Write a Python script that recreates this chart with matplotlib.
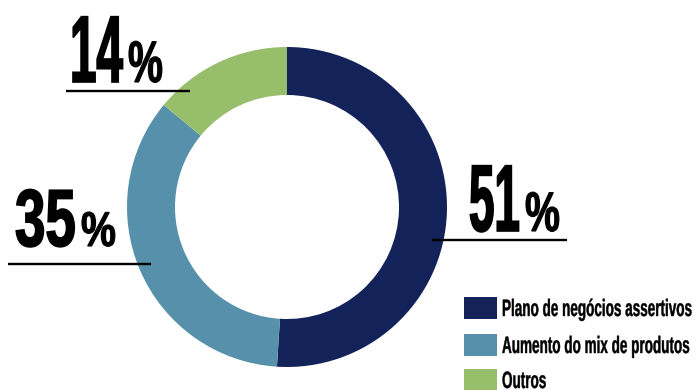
import matplotlib
matplotlib.use("Agg")
import matplotlib.pyplot as plt
from matplotlib.patches import Rectangle
from matplotlib.patheffects import AbstractPathEffect
from matplotlib.transforms import Affine2D

labels = ["Plano de negócios assertivos", "Aumento do mix de produtos", "Outros"]
values = [51, 35, 14]
colors = ["#14225A", "#5790AA", "#97BE6A"]

W, H = 697, 390
DPI = 100
fig = plt.figure(figsize=(W / DPI, H / DPI), dpi=DPI)
ax = fig.add_axes([0, 0, 1, 1])

FONT = ["Liberation Sans", "DejaVu Sans"]
CAP = 0.716  # cap/digit height as fraction of em


class VStretch(AbstractPathEffect):
    """Stretch text glyphs vertically around the baseline (condensed look), optionally embolden."""
    def __init__(self, sy, y0, stroke=0.0):
        super().__init__()
        self.sy, self.y0, self.stroke = sy, y0, stroke

    def draw_path(self, renderer, gc, tpath, affine, rgbFace=None):
        t = affine + Affine2D().translate(0, -self.y0).scale(1, self.sy).translate(0, self.y0)
        g = renderer.new_gc()
        g.copy_properties(gc)
        if self.stroke > 0:
            g.set_linewidth(self.stroke)
            g.set_foreground(rgbFace if rgbFace is not None else "black")
            g.set_joinstyle("miter")
        else:
            g.set_linewidth(0)
        renderer.draw_path(g, tpath, t, rgbFace)
        g.restore()


cx, cy, R = 287, H - 207, 160
ax.pie(values, colors=colors, startangle=90, counterclock=False,
       radius=R, center=(cx, cy), frame=True,
       wedgeprops=dict(width=48, linewidth=0))
ax.set_xlim(0, W)
ax.set_ylim(0, H)
ax.set_aspect("equal")
ax.axis("off")

fig.canvas.draw()
r = fig.canvas.get_renderer()


def cond_text(x, base, s, cap_px, width_px, weight="bold", stroke=0.0, fs_fixed=None):
    t = ax.text(x, H - base, s, fontsize=10, fontweight=weight, family=FONT,
                ha="left", va="baseline", color="black")
    if fs_fixed is None:
        w0 = t.get_window_extent(renderer=r).width
        fs = 10 * width_px / w0
    else:
        fs = fs_fixed
    t.set_fontsize(fs)
    cap_now = fs * DPI / 72 * CAP
    sy = cap_px / cap_now
    y0 = ax.transData.transform((x, H - base))[1]
    t.set_path_effects([VStretch(sy, y0, stroke)])
    return t, fs


# number: (left, right, top, baseline); percent: (left, right, top); underline (x0, x1, y)
label_layout = {
    51: dict(num=(469, 522, 163, 231), pct=(525, 562, 191), line=(432, 567, 240)),
    35: dict(num=(15, 78, 188, 246), pct=(81, 118, 211), line=(8, 151, 264)),
    14: dict(num=(70, 125, 14, 82), pct=(128, 165, 40), line=(66, 190, 91)),
}

for v in values:
    lay = label_layout[v]
    nl, nr, nt, nb = lay["num"]
    cond_text(nl, nb, str(v), nb - nt, nr - nl - 2, stroke=1.2)
    pl, pr, pt = lay["pct"]
    cond_text(pl, nb, "%", nb - pt, pr - pl - 2, stroke=0.8)
    x0, x1, y = lay["line"]
    ax.plot([x0, x1], [H - y, H - y], color="black", lw=1.7, solid_capstyle="butt")

# legend: one common font size fitted to the longest label's width
legend_top = [297, 334, 369]
_, fs_leg = cond_text(0, 0, labels[0], 17, 190)
ax.texts[-1].remove()
for lab, col, top in zip(labels, colors, legend_top):
    ax.add_patch(Rectangle((464, H - top - 22), 33, 22, facecolor=col, edgecolor="none"))
    cond_text(502, top + 19, lab, 17, None, stroke=0.3, fs_fixed=fs_leg)

fig.savefig("out.png", dpi=DPI)
